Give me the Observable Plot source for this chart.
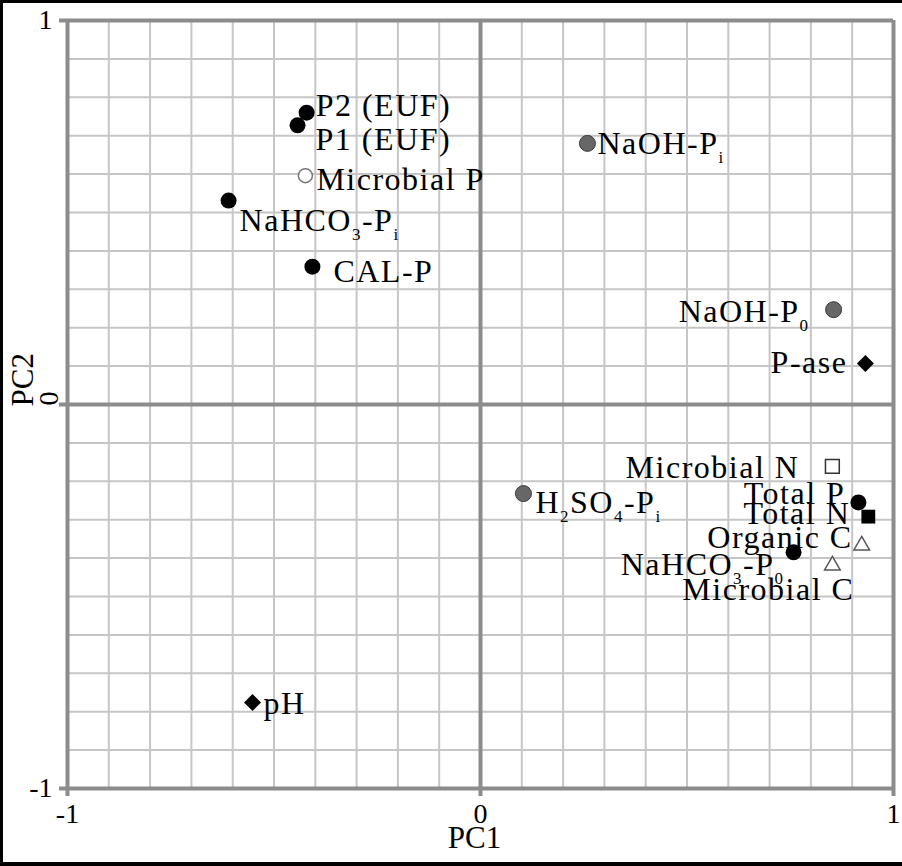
<!DOCTYPE html>
<html>
<head>
<meta charset="utf-8">
<script src="https://cdn.jsdelivr.net/npm/d3@7"></script>
<script src="https://cdn.jsdelivr.net/npm/@observablehq/plot@0.6"></script>
<style>
  html, body { margin: 0; padding: 0; background: #fff; }
  #wrap { width: 902px; height: 866px; box-sizing: border-box; border-left: 3px solid #000; border-top: 3px solid #000; border-bottom: 4px solid #000; overflow: hidden; background: #fff; }
  #wrap svg { display: block; }
  #wrap svg text { font-family: "Liberation Serif", "Times New Roman", serif !important; }
</style>
</head>
<body>
<div id="wrap"></div>
<script>
// ---- data ----
const names = ["P2 (EUF)", "P1 (EUF)", "Microbial P", "NaHCO_3-P_i", "CAL-P", "NaOH-P_i", "NaOH-P_0", "P-ase",
               "Microbial N", "H_2SO_4-P_i", "Total P", "Total N", "Organic C", "NaHCO_3-P_0", "Microbial C", "pH"];
const pc1 = [-0.421, -0.443, -0.424, -0.610, -0.407, 0.259, 0.855, 0.932,
             0.852, 0.104, 0.915, 0.939, 0.923, 0.758, 0.852, -0.552];
const pc2 = [0.760, 0.727, 0.596, 0.531, 0.359, 0.680, 0.247, 0.107,
             -0.161, -0.232, -0.255, -0.292, -0.367, -0.385, -0.419, -0.776];
const kinds = ["black", "black", "openCircle", "black", "black", "gray", "gray", "diamond",
               "openSquare", "gray", "black", "square", "triangle", "black", "triangle", "diamond"];

const gridTicks = [-1, -0.9, -0.8, -0.7, -0.6, -0.5, -0.4, -0.3, -0.2, -0.1, 0,
                   0.1, 0.2, 0.3, 0.4, 0.5, 0.6, 0.7, 0.8, 0.9, 1];
const axisTicks = [-1, 0, 1];
const xTickLabels = ["-1", "0", "1"];
const yTickLabels = ["-1", "0", "1"];
const xTitle = "PC1";
const yTitle = "PC2";

// ---- label placement (layout only) ----
const labelPlacement = {
  "P2 (EUF)":     {anchor: "start", dx: 9,   dy: -7},
  "P1 (EUF)":     {anchor: "start", dx: 18,  dy: 14},
  "Microbial P":  {anchor: "start", dx: 11,  dy: 4},
  "NaHCO_3-P_i":  {anchor: "start", dx: 11,  dy: 20},
  "CAL-P":        {anchor: "start", dx: 21,  dy: 5},
  "NaOH-P_i":     {anchor: "start", dx: 10,  dy: 0},
  "NaOH-P_0":     {anchor: "end",   dx: -24, dy: 2},
  "P-ase":        {anchor: "end",   dx: -18, dy: -1},
  "Microbial N":  {anchor: "end",   dx: -33, dy: 1},
  "H_2SO_4-P_i":  {anchor: "start", dx: 12,  dy: 9},
  "Total P":      {anchor: "end",   dx: -13, dy: -9},
  "Total N":      {anchor: "end",   dx: -18, dy: -3},
  "Organic C":    {anchor: "end",   dx: -9,  dy: -8},
  "NaHCO_3-P_0":  {anchor: "end",   dx: -9,  dy: 12},
  "Microbial C":  {anchor: "end",   dx: 22,  dy: 24},
  "pH":           {anchor: "start", dx: 11,  dy: 1}
};

const data = names.map((name, i) => ({name, x: pc1[i], y: pc2[i], kind: kinds[i]}));
const of = k => data.filter(d => d.kind === k);

const FONT = "'Liberation Serif', 'Times New Roman', serif";
const FRAME = "#8c8c8c";

const labelMarks = data.map(d => {
  const p = labelPlacement[d.name];
  return Plot.text([d], {x: "x", y: "y", text: "name", textAnchor: p.anchor, dx: p.dx, dy: p.dy,
                         fontSize: 32, fontFamily: FONT, fill: "black"});
});

const svg = Plot.plot({
  width: 899,
  height: 859,
  marginLeft: 64,
  marginRight: 9,
  marginTop: 17,
  marginBottom: 74,
  style: {fontFamily: FONT, background: "#fff", color: "black"},
  x: {domain: [-1, 1]},
  y: {domain: [-1, 1]},
  marks: [
    Plot.gridX(gridTicks, {stroke: "#c6c6c6", strokeOpacity: 1, strokeWidth: 2}),
    Plot.gridY(gridTicks, {stroke: "#c6c6c6", strokeOpacity: 1, strokeWidth: 2}),
    Plot.ruleX(axisTicks, {stroke: FRAME, strokeWidth: 4}),
    Plot.ruleY(axisTicks, {stroke: FRAME, strokeWidth: 4}),
    Plot.axisX(axisTicks, {tickSize: 8, tickPadding: 7, stroke: FRAME, strokeWidth: 4, fill: "black",
                           fontSize: 28, fontFamily: FONT, label: null,
                           tickFormat: d => xTickLabels[axisTicks.indexOf(d)]}),
    Plot.axisY(axisTicks, {tickSize: 8, tickPadding: 7, stroke: FRAME, strokeWidth: 4, fill: "black",
                           fontSize: 28, fontFamily: FONT, label: null,
                           tickFormat: d => d === 0 ? "" : yTickLabels[axisTicks.indexOf(d)]}),
    Plot.text([yTickLabels[1]], {frameAnchor: "left", dx: -18, dy: 1, rotate: -90, fontSize: 28, fontFamily: FONT, fill: "black"}),
    Plot.text([yTitle], {frameAnchor: "left", dx: -44, dy: 2, rotate: -90, fontSize: 31, fontFamily: FONT, fill: "black"}),
    Plot.text([xTitle], {frameAnchor: "bottom", dx: -6, dy: 59, fontSize: 31, fontFamily: FONT, fill: "black"}),
    // markers
    Plot.dot(of("black"), {x: "x", y: "y", r: 8, fill: "black"}),
    Plot.dot(of("gray"), {x: "x", y: "y", r: 8, fill: "#676767", stroke: "#3a3a3a", strokeWidth: 1}),
    Plot.dot(of("openCircle"), {x: "x", y: "y", r: 7, fill: "white", stroke: "#777", strokeWidth: 1.5}),
    Plot.dot(of("diamond"), {x: "x", y: "y", symbol: "square", rotate: 45, r: 6.8, fill: "black"}),
    Plot.dot(of("openSquare"), {x: "x", y: "y", symbol: "square", r: 7.8, fill: "white", stroke: "#333", strokeWidth: 1.5}),
    Plot.dot(of("square"), {x: "x", y: "y", symbol: "square", r: 7.8, fill: "black"}),
    Plot.dot(of("triangle"), {x: "x", y: "y", symbol: "triangle", r: 5.8, fill: "white", stroke: "#555", strokeWidth: 1.5}),
    ...labelMarks
  ]
});

// subscripts and letter spacing for point labels
const NS = "http://www.w3.org/2000/svg";
const labelSet = new Set(names);
d3.select(svg).selectAll("text").each(function() {
  const s = this.textContent;
  if (!labelSet.has(s)) return;
  this.style.letterSpacing = "1.5px";
  if (!s.includes("_")) return;
  const parts = s.split(/(_\w)/).filter(p => p.length);
  while (this.firstChild) this.removeChild(this.firstChild);
  let prevSub = false;
  for (const p of parts) {
    const t = document.createElementNS(NS, "tspan");
    if (p.startsWith("_")) {
      t.textContent = p.slice(1);
      t.setAttribute("font-size", "17");
      t.setAttribute("dy", "9");
      prevSub = true;
    } else {
      t.textContent = p;
      if (prevSub) t.setAttribute("dy", "-9");
      prevSub = false;
    }
    this.appendChild(t);
  }
});

document.getElementById("wrap").appendChild(svg);
</script>
</body>
</html>
